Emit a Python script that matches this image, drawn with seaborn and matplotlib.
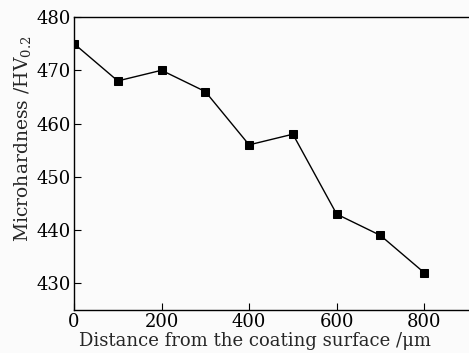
import pandas as pd
import seaborn as sns
import matplotlib.pyplot as plt

distance = [0, 100, 200, 300, 400, 500, 600, 700, 800]
hardness = [475, 468, 470, 466, 456, 458, 443, 439, 432]
xticks = [0, 200, 400, 600, 800]
yticks = [430, 440, 450, 460, 470, 480]

df = pd.DataFrame({"Distance": distance, "Hardness": hardness})

sns.set_style("ticks")
plt.rcParams['font.family'] = ['DejaVu Serif']
plt.rcParams['mathtext.fontset'] = 'dejavuserif'

fig = plt.figure(figsize=(4.69, 3.53), dpi=100)
fig.patch.set_facecolor('#fbfbfb')
ax = fig.add_axes([74 / 469, 1 - 310 / 353, 394 / 469, 293 / 353])
ax.set_facecolor('#fbfbfb')

sns.lineplot(data=df, x="Distance", y="Hardness", ax=ax, color='black',
             marker='s', markersize=6, linewidth=1.0, markeredgecolor='black')

ax.set_xlim(0, 900)
ax.set_ylim(425, 480)
ax.set_xticks(xticks)
ax.set_yticks(yticks)
ax.tick_params(direction='in', length=5, width=0.8, labelsize=13, pad=2,
               colors='black')
for s in ax.spines.values():
    s.set_linewidth(1.0)
    s.set_color('black')
ax.spines['right'].set_visible(False)

ax.set_xlabel("Distance from the coating surface /\u03bcm", fontsize=13)
ax.set_ylabel("Microhardness /HV$_{0.2}$", fontsize=13.5)
ax.xaxis.set_label_coords(0.46, -0.075)
ax.yaxis.set_label_coords(-0.105, 0.585)

fig.savefig("out.png", dpi=100, facecolor=fig.get_facecolor())
